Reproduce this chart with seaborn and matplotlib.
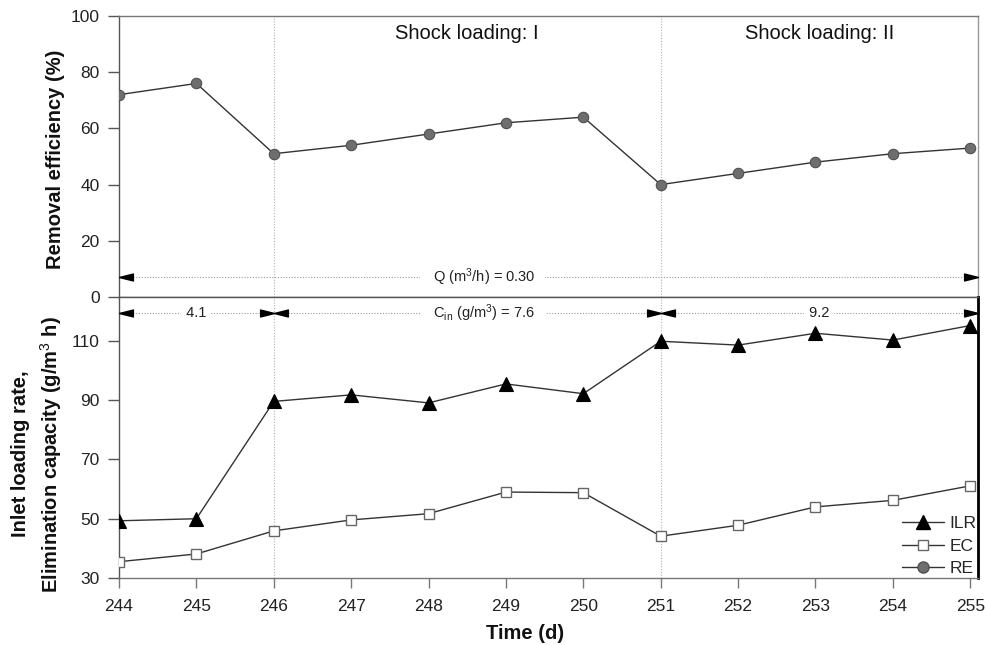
import matplotlib
matplotlib.use("Agg")
import matplotlib.pyplot as plt
from matplotlib.lines import Line2D
import seaborn as sns

# ---- data -------------------------------------------------------------
days = [244, 245, 246, 247, 248, 249, 250, 251, 252, 253, 254, 255]
removal_eff = [72, 76, 51, 54, 58, 62, 64, 40, 44, 48, 51, 53]          # RE, %
ilr = [49.3, 50.0, 89.6, 91.8, 89.1, 95.5, 92.2, 109.9, 108.6, 112.6, 110.3, 115.2]
ec = [35.5, 38.1, 45.9, 49.6, 51.7, 59.0, 58.8, 44.1, 47.8, 54.0, 56.2, 61.1]

phase_bounds = [244, 246, 251, 255.1]      # start/end of each operating phase (d)
shock_labels = ["Shock loading: I", "Shock loading: II"]
cin_labels = ["4.1", r"C$_{\mathrm{in}}$ (g/m$^3$) = 7.6", "9.2"]
flow_label = r"Q (m$^3$/h) = 0.30"
series_names = ["ILR", "EC", "RE"]

# ---- style ------------------------------------------------------------
sns.set_style("ticks")
plt.rcParams["font.family"] = ["Liberation Sans", "DejaVu Sans"]
plt.rcParams["mathtext.fontset"] = "custom"
plt.rcParams["mathtext.rm"] = "Liberation Sans"
plt.rcParams["mathtext.it"] = "Liberation Sans:italic"
plt.rcParams["mathtext.bf"] = "Liberation Sans:bold"

SPINE = "#555555"
LINE = "#333333"
DOT = "#9a9a9a"

fig = plt.figure(figsize=(9.86, 6.45), dpi=100)
fig.patch.set_facecolor("white")
ax_top = fig.add_axes([0.1207, 0.5395, 0.8712, 0.4357])
ax_bot = fig.add_axes([0.1207, 0.1039, 0.8712, 0.4357])

# arrowheads with the tip on the data point
head_right = [(0, 0), (-2, 0.5), (-2, -0.5), (0, 0)]
head_left = [(0, 0), (2, 0.5), (2, -0.5), (0, 0)]


def span_arrow(ax, x0, x1, y, label, xtext, fs=10.5, gap="   "):
    ax.plot([x0, x1], [y, y], color=DOT, lw=0.8, ls=(0, (1, 1.5)), zorder=2,
            clip_on=False)
    ax.plot([x0], [y], marker=head_left, ms=20, color="black", lw=0,
            zorder=4, clip_on=False)
    ax.plot([x1], [y], marker=head_right, ms=20, color="black", lw=0,
            zorder=4, clip_on=False)
    # blank padding around the label breaks the dotted line
    ax.text(xtext, y, gap + label + gap, ha="center", va="center",
            fontsize=fs, color="#222222", zorder=3,
            bbox=dict(boxstyle="square,pad=0.05", fc="white", ec="none"))


# ---- top panel: removal efficiency -----------------------------------
sns.lineplot(x=days, y=removal_eff, ax=ax_top, color=LINE, lw=1,
             marker="o", markersize=7.5, markerfacecolor="#6e6e6e",
             markeredgecolor="#505050", markeredgewidth=0.8, zorder=5,
             legend=False)
ax_top.set_xlim(phase_bounds[0], phase_bounds[-1])
ax_top.set_ylim(0, 100)
ax_top.set_yticks([0, 20, 40, 60, 80, 100])
ax_top.set_xticks([])
ax_top.set_xlabel("")
ax_top.set_ylabel("")
fig.text(0.0558, 0.7535, "Removal efficiency (%)", rotation=90, ha="center",
         va="center", fontsize=14.5, fontweight="bold", color="#111111")

for d in phase_bounds[1:3]:
    ax_top.axvline(d, color="#b0b0b0", lw=0.8, ls=(0, (1, 1.5)), zorder=1)

for i, lab in enumerate(shock_labels):
    xm = (phase_bounds[i + 1] + phase_bounds[i + 2]) / 2
    ax_top.text(xm, 93.6, lab, ha="center", va="center", fontsize=14.5,
                color="#111111")

span_arrow(ax_top, phase_bounds[0], phase_bounds[-1], 7.1, flow_label, 248.7)

# ---- bottom panel: ILR and EC ----------------------------------------
sns.lineplot(x=days, y=ilr, ax=ax_bot, color=LINE, lw=1, marker="^",
             markersize=9.5, markerfacecolor="black", markeredgecolor="black",
             markeredgewidth=0.8, zorder=5, legend=False)
sns.lineplot(x=days, y=ec, ax=ax_bot, color=LINE, lw=1, marker="s",
             markersize=7.5, markerfacecolor="white", markeredgecolor="#666666",
             markeredgewidth=1.0, zorder=5, legend=False)
ax_bot.set_xlim(phase_bounds[0], phase_bounds[-1])
ax_bot.set_ylim(30, 124.85)
ax_bot.set_yticks([30, 50, 70, 90, 110])
ax_bot.set_xticks(days)
ax_bot.set_xticklabels([str(d) for d in days])
ax_bot.set_xlabel("Time (d)", fontsize=14.5, fontweight="bold", color="#111111")
ax_bot.xaxis.set_label_coords(0.473, -0.162)
ax_bot.set_ylabel("")
fig.text(0.038, 0.296, "Inlet loading rate,\nElimination capacity (g/m$^3$ h)",
         rotation=90, ha="center", va="center", multialignment="center",
         fontsize=14.5, fontweight="bold", linespacing=1.45, color="#111111")

for d in phase_bounds[1:3]:
    ax_bot.axvline(d, color="#b0b0b0", lw=0.8, ls=(0, (1, 1.5)), zorder=1)

cin_y = 119.5
for i, lab in enumerate(cin_labels):
    x0, x1 = phase_bounds[i], phase_bounds[i + 1]
    xt = 248.7 if i == 1 else (x0 + x1) / 2
    span_arrow(ax_bot, x0, x1, cin_y, lab, xt, gap="   " if i == 1 else " ")

# legend for all three series
handles = [
    Line2D([], [], color=LINE, lw=1, marker="^", ms=9.5, mfc="black", mec="black"),
    Line2D([], [], color=LINE, lw=1, marker="s", ms=7.5, mfc="white", mec="#666666"),
    Line2D([], [], color=LINE, lw=1, marker="o", ms=8, mfc="#6e6e6e", mec="#505050"),
]
ax_bot.legend(handles, series_names, loc="lower right", frameon=False,
              fontsize=12.5, handlelength=2.4, handletextpad=0.3,
              labelspacing=0.42, borderaxespad=0.0, borderpad=0.1)

# ---- axes cosmetics ---------------------------------------------------
for ax in (ax_top, ax_bot):
    for s in ax.spines.values():
        s.set_color(SPINE)
        s.set_linewidth(1)
    ax.tick_params(axis="y", direction="out", length=8, width=1, color=SPINE,
                   labelsize=12.5, pad=6, labelcolor="#222222")
ax_top.spines["right"].set_color("#999999")
ax_top.spines["top"].set_color("#777777")
ax_bot.spines["right"].set_color("black")
ax_bot.spines["right"].set_linewidth(2)
ax_bot.spines["bottom"].set_color("#777777")
ax_bot.tick_params(axis="x", direction="out", length=7, width=1, color="#777777",
                   labelsize=12.5, pad=8, labelcolor="#222222")

fig.savefig("out.png", dpi=100, facecolor="white")
